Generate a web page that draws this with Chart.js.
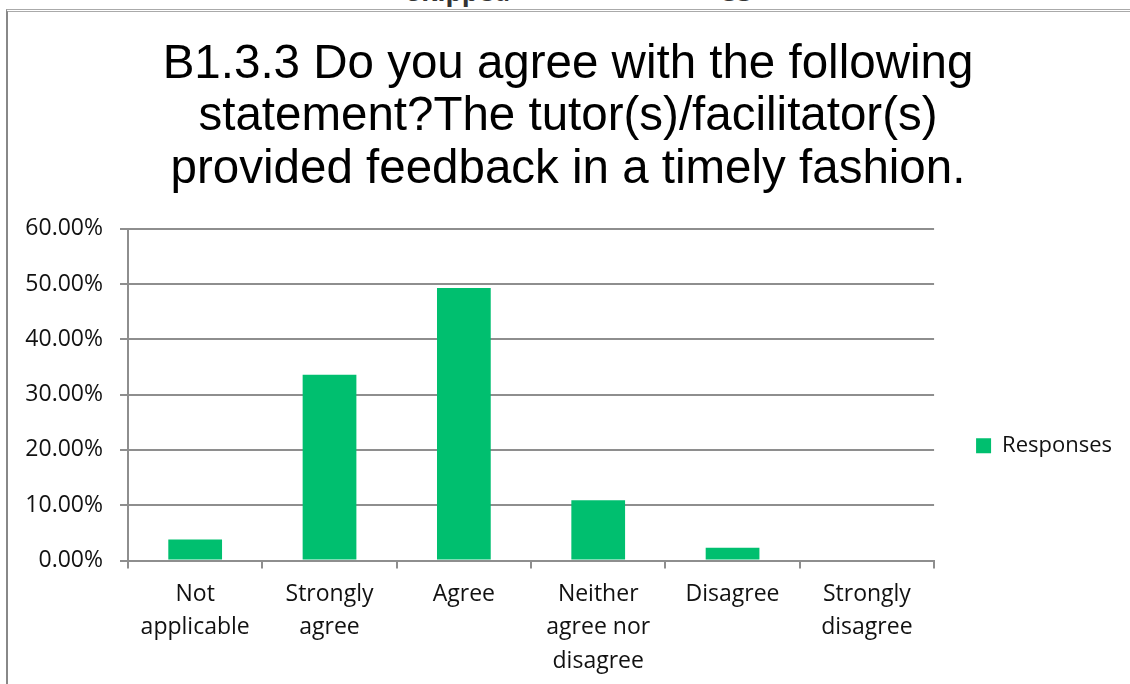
<!DOCTYPE html>
<html>
<head>
<meta charset="utf-8">
<script src="https://cdn.jsdelivr.net/npm/chart.js@4.4.1/dist/chart.umd.min.js"></script>
<style>
  body { margin: 0; background: #fff; overflow: hidden; }
  #wrap { position: relative; width: 1130px; height: 684px; overflow: hidden; }
  #frame { position: absolute; left: 6px; top: 9px; right: -10px; bottom: -10px;
           border-left: 2px solid #888; border-top: 3px double #aaa; }
  .skipped { position: absolute; top: -27px; font: bold 26px 'Open Sans', sans-serif; color: #333; }
  canvas { position: absolute; left: 0; top: 0; }
</style>
</head>
<body>
<div id="wrap">
  <div class="skipped" style="left:407px">Skipped</div>
  <div class="skipped" style="left:723px">53</div>
  <div id="frame"></div>
  <canvas id="responsesChart" width="1130" height="684"></canvas>
</div>
<script>
// answer categories (multi-line axis labels)
const categories = [
    ['Not', 'applicable'],
    ['Strongly', 'agree'],
    ['Agree'],
    ['Neither', 'agree nor', 'disagree'],
    ['Disagree'],
    ['Strongly', 'disagree']
];
// share of responses, in percent
const responses = [3.8, 33.6, 49.3, 10.9, 2.3, 0];
const yMax = 60;
const yStep = 10;

const titleLines = [
    'B1.3.3 Do you agree with the following',
    'statement?The tutor(s)/facilitator(s)',
    'provided feedback in a timely fashion.'
];

const labelFont = { family: "'Open Sans', sans-serif", size: 23 };
const axisGray = '#8e8e8e';

const ctx = document.getElementById('responsesChart').getContext('2d');
const responsesChart = new Chart(ctx, {
    type: 'bar',
    data: {
        labels: categories,
        datasets: [{
            label: 'Responses',
            data: responses,
            backgroundColor: '#00bf6f',
            borderWidth: 0,
            categoryPercentage: 1,
            barPercentage: 0.4
        }]
    },
    options: {
        responsive: false,
        animation: false,
        devicePixelRatio: 1,
        layout: {
            padding: { left: 14, right: 8, top: 0, bottom: -3 }
        },
        plugins: {
            tooltip: { enabled: false },
            title: {
                display: true,
                text: titleLines,
                color: '#000',
                font: { family: "'Liberation Sans', Arial, sans-serif", size: 47.5, weight: 'normal', lineHeight: 1.1 },
                padding: { top: 39, bottom: 33 }
            },
            legend: {
                position: 'right',
                align: 'center',
                fullSize: false,
                labels: {
                    boxWidth: 15,
                    boxHeight: 15,
                    padding: 42,
                    color: '#111',
                    font: { family: "'Open Sans', sans-serif", size: 22 }
                },
                // empty title only pushes the entry down a bit
                title: { display: true, text: '', padding: { top: 88, bottom: 0 }, font: { size: 12 } }
            }
        },
        scales: {
            x: {
                offset: true,
                grid: {
                    offset: true,
                    drawOnChartArea: false,
                    drawTicks: true,
                    tickLength: 8,
                    color: axisGray,
                    lineWidth: 2
                },
                border: { color: axisGray, width: 2 },
                ticks: {
                    color: '#111',
                    font: Object.assign({ lineHeight: '33.5px' }, labelFont),
                    padding: 9,
                    maxRotation: 0,
                    autoSkip: false
                }
            },
            y: {
                min: 0,
                max: yMax,
                afterFit: function(scale) { scale.width = 114; },
                grid: { color: axisGray, lineWidth: 2, tickLength: 8 },
                border: { color: axisGray, width: 2 },
                ticks: {
                    stepSize: yStep,
                    color: '#111',
                    font: labelFont,
                    padding: 17,
                    callback: function(value) { return value.toFixed(2) + '%'; }
                }
            }
        }
    }
});
</script>
</body>
</html>
